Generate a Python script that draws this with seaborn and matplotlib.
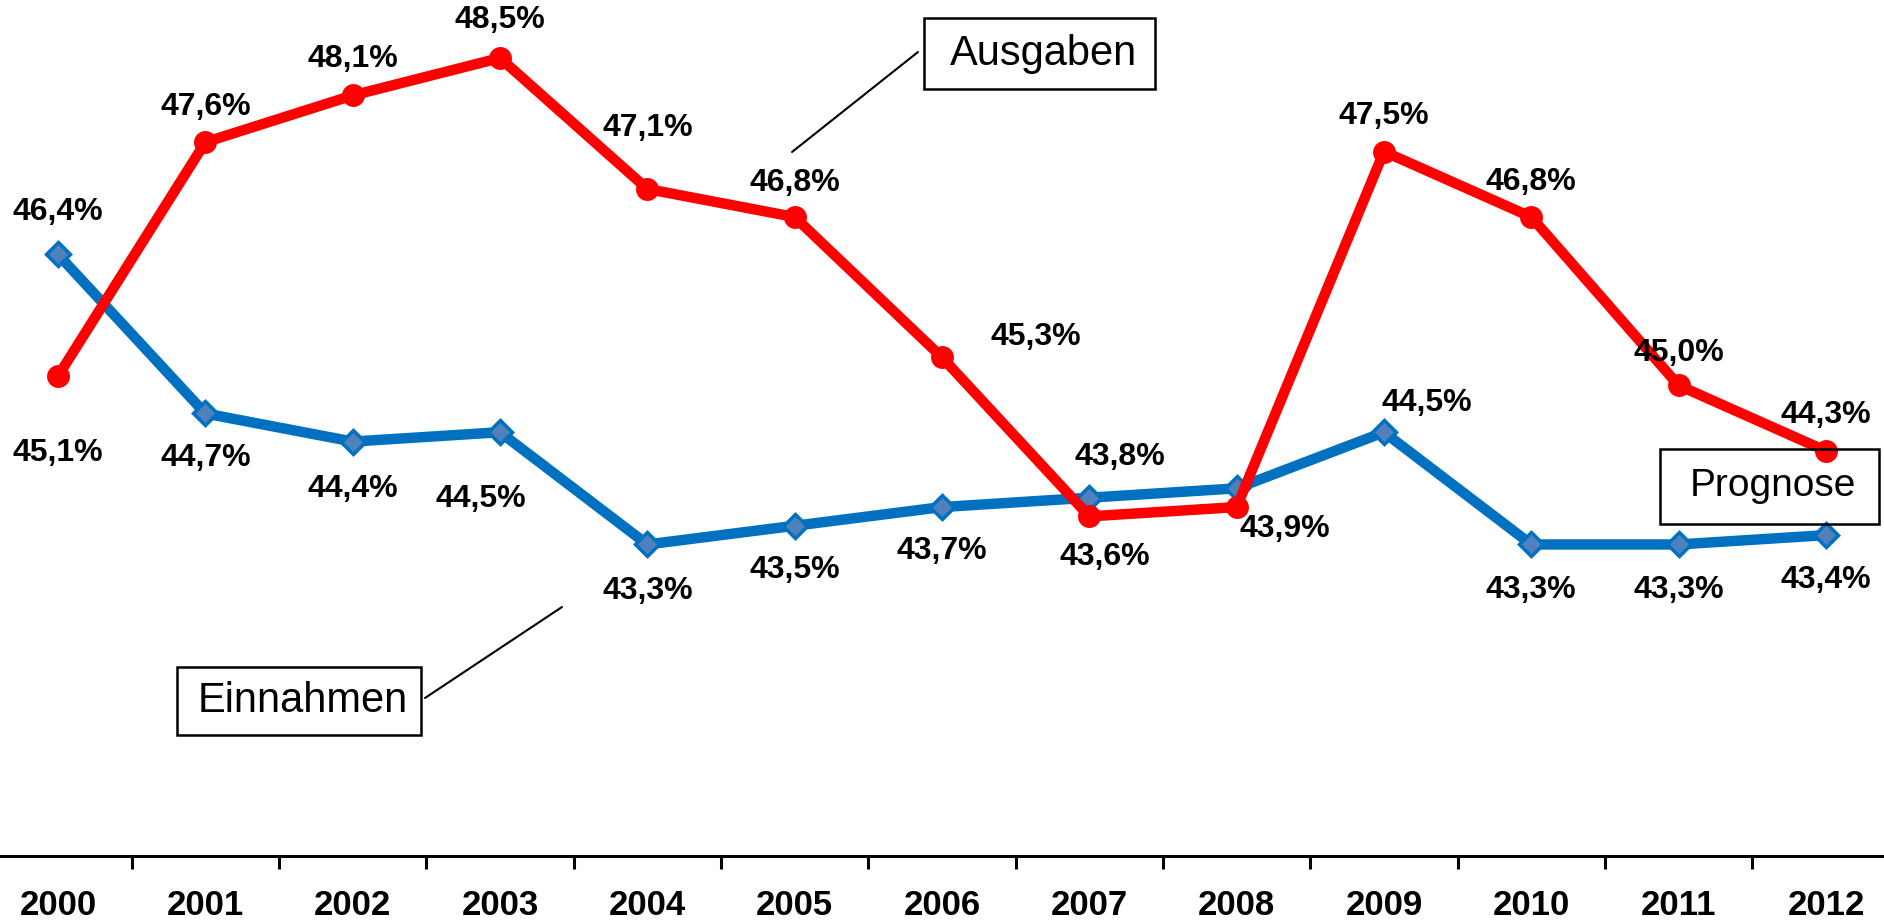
import numpy as np
import pandas as pd
import matplotlib.pyplot as plt
import seaborn as sns
from matplotlib.patches import Rectangle
from matplotlib.lines import Line2D

# Daten (Anteil am BIP in %)
years = [str(y) for y in range(2000, 2013)]
einnahmen = [46.4, 44.7, 44.4, 44.5, 43.3, 43.5, 43.7, 43.8, 43.9, 44.5, 43.3, 43.3, 43.4]
ausgaben = [45.1, 47.6, 48.1, 48.5, 47.1, 46.8, 45.3, 43.6, 43.7, 47.5, 46.8, 45.0, 44.3]
ausgaben_label = [True] * 8 + [False] + [True] * 4

# label offsets in pixels (dx, dy with dy pointing down)
einnahmen_off = [(0, -42), (0, 45), (0, 47), (-19, 67), (0, 47), (0, 44), (0, 44),
                 (31, -41), (48, 41), (43, -29), (0, 46), (0, 46), (0, 45)]
ausgaben_off = [(0, 77), (0, -35), (0, -36), (0, -38), (0, -61), (0, -34), (94, -20),
                (15, 41), (0, 0), (0, -36), (0, -35), (0, -32), (0, -36)]

sns.set_theme(style='white')
plt.rcParams['font.family'] = ['Liberation Sans', 'DejaVu Sans']
plt.rcParams['text.color'] = 'black'
plt.rcParams['xtick.color'] = 'black'
plt.rcParams['xtick.labelcolor'] = 'black'

W, H = 1884, 924
fig = plt.figure(figsize=(W / 100, H / 100), dpi=100)
ax = fig.add_axes([0, 1 - 856 / H, 1, 856 / H])

df = pd.DataFrame({'pos': np.arange(len(years)), 'Einnahmen': einnahmen, 'Ausgaben': ausgaben})

sns.lineplot(data=df, x='pos', y='Einnahmen', ax=ax, color='#0070C0', linewidth=7.5,
             marker='D', markersize=12, markerfacecolor='#4F81BD',
             markeredgecolor='#0070C0', markeredgewidth=2.5, zorder=2)
sns.lineplot(data=df, x='pos', y='Ausgaben', ax=ax, color='#FF0000', linewidth=7.5,
             marker='o', markersize=16.5, markerfacecolor='#FF0000',
             markeredgecolor='#FF0000', markeredgewidth=0, zorder=3)


def fmt(v):
    return f'{v:.1f}'.replace('.', ',') + '%'


for i, v in enumerate(einnahmen):
    dx, dy = einnahmen_off[i]
    ax.annotate(fmt(v), xy=(i, v), xytext=(dx, -dy), textcoords='offset pixels',
                ha='center', va='center', fontsize=23, fontweight='bold',
                color='black', zorder=5)
for i, v in enumerate(ausgaben):
    if not ausgaben_label[i]:
        continue
    dx, dy = ausgaben_off[i]
    ax.annotate(fmt(v), xy=(i, v), xytext=(dx, -dy), textcoords='offset pixels',
                ha='center', va='center', fontsize=23, fontweight='bold',
                color='black', zorder=5)

ax.set_xlim(-0.394, 12.394)
ax.set_ylim(39.97, 49.12)
ax.set_xticks(range(len(years)))
ax.set_xticklabels(years, fontsize=25, fontweight='bold', color='black',
                   family=['Liberation Sans Narrow', 'Liberation Sans'])
ax.set_xticks(np.arange(0.5, len(years) - 1, 1), minor=True)
ax.tick_params(axis='x', which='major', length=0, pad=24)
ax.tick_params(axis='x', which='minor', bottom=True, length=9, width=2.2, color='black', direction='out')
ax.set_yticks([])
ax.set_xlabel('')
ax.set_ylabel('')
for s in ['top', 'left', 'right']:
    ax.spines[s].set_visible(False)
ax.spines['bottom'].set_linewidth(2.2)
ax.spines['bottom'].set_color('black')
ax.grid(False)


def fx(x):
    return x / W


def fy(y):
    return 1 - y / H


# Beschriftungskästen
boxes = [('Ausgaben', (924, 18, 1155, 89), 1044, 30),
         ('Einnahmen', (177, 667, 421, 735), 303, 30),
         ('Prognose', (1660, 449, 1879, 524), 1773, 28)]
for txt, (x0, y0, x1, y1), tx, fs in boxes:
    fig.patches.append(Rectangle((fx(x0), fy(y1)), fx(x1) - fx(x0), fy(y0) - fy(y1),
                                 transform=fig.transFigure, fill=False,
                                 edgecolor='black', linewidth=1.8, zorder=1))
    fig.text(fx(tx), fy((y0 + y1) / 2), txt, ha='center', va='center', fontsize=fs,
             color='black')

for (x0, y0, x1, y1) in [(792, 152, 918, 52), (425, 698, 562, 607)]:
    fig.lines.append(Line2D([fx(x0), fx(x1)], [fy(y0), fy(y1)], transform=fig.transFigure,
                            color='black', linewidth=1.5))

fig.savefig('out.png', dpi=100)
